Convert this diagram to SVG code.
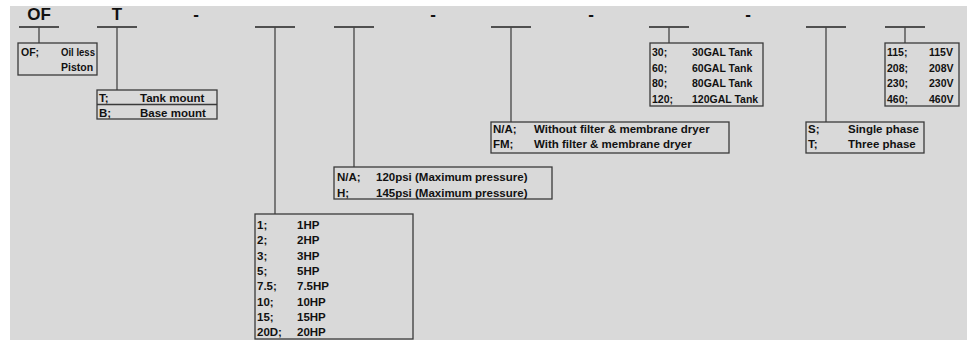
<svg xmlns="http://www.w3.org/2000/svg" width="967" height="340" viewBox="0 0 967 340">
<style>
.bg{fill:#d9d9d9}
.box{fill:none;stroke:#3a3a3a;stroke-width:1.3}
.ln{stroke:#222;stroke-width:1.3;fill:none}
.vl{stroke:#444;stroke-width:1.3;fill:none}
.t{font-family:"Liberation Sans",Arial,sans-serif;font-weight:bold;font-size:11.5px;fill:#111}
.s{font-size:10.5px}
.h{font-family:"Liberation Sans",Arial,sans-serif;font-weight:bold;font-size:17px;fill:#111;text-anchor:middle}
</style>
<rect x="0" y="0" width="967" height="340" fill="#ffffff"/>
<rect class="bg" x="10" y="6" width="957" height="334"/>
<g id="headers">
<text class="h" x="39" y="20">OF</text>
<text class="h" x="117" y="20">T</text>
<text class="h" x="196" y="20">-</text>
<text class="h" x="433" y="20">-</text>
<text class="h" x="591" y="20">-</text>
<text class="h" x="748" y="20">-</text>
</g>
<g id="connectors">
<line class="ln" x1="19" y1="27" x2="59" y2="27"/><line class="vl" x1="39" y1="27" x2="39" y2="43"/>
<line class="ln" x1="97" y1="27" x2="137" y2="27"/><line class="vl" x1="117" y1="27" x2="117" y2="90"/>
<line class="ln" x1="255" y1="27" x2="295" y2="27"/><line class="vl" x1="275" y1="27" x2="275" y2="214"/>
<line class="ln" x1="334" y1="27" x2="374" y2="27"/><line class="vl" x1="354" y1="27" x2="354" y2="167"/>
<line class="ln" x1="491" y1="27" x2="531" y2="27"/><line class="vl" x1="511" y1="27" x2="511" y2="122"/>
<line class="ln" x1="649" y1="27" x2="689" y2="27"/><line class="vl" x1="669" y1="27" x2="669" y2="43"/>
<line class="ln" x1="806" y1="27" x2="846" y2="27"/><line class="vl" x1="826" y1="27" x2="826" y2="122"/>
<line class="ln" x1="885" y1="27" x2="925" y2="27"/><line class="vl" x1="905" y1="27" x2="905" y2="43"/>
</g>
<g id="node-of">
<rect class="box" x="18" y="43" width="79" height="32"/>
<text class="t s" x="21" y="56">OF;</text>
<text class="t s" x="61" y="56" textLength="34" lengthAdjust="spacingAndGlyphs">Oil less</text>
<text class="t s" x="61" y="71">Piston</text>
</g>
<g id="node-mount">
<rect class="box" x="97" y="90" width="120" height="29"/>
<line class="box" x1="97" y1="104.5" x2="217" y2="104.5"/>
<text class="t" x="99" y="102">T;</text>
<text class="t" x="140" y="102">Tank mount</text>
<text class="t" x="99" y="117">B;</text>
<text class="t" x="140" y="117">Base mount</text>
</g>
<g id="node-hp">
<rect class="box" x="255" y="214" width="158" height="125"/>
<text class="t" x="257" y="229">1;</text><text class="t" x="297" y="229">1HP</text>
<text class="t" x="257" y="244.3">2;</text><text class="t" x="297" y="244.3">2HP</text>
<text class="t" x="257" y="259.6">3;</text><text class="t" x="297" y="259.6">3HP</text>
<text class="t" x="257" y="274.9">5;</text><text class="t" x="297" y="274.9">5HP</text>
<text class="t" x="257" y="290.2">7.5;</text><text class="t" x="297" y="290.2">7.5HP</text>
<text class="t" x="257" y="305.5">10;</text><text class="t" x="297" y="305.5">10HP</text>
<text class="t" x="257" y="320.8">15;</text><text class="t" x="297" y="320.8">15HP</text>
<text class="t" x="257" y="336">20D;</text><text class="t" x="297" y="336">20HP</text>
</g>
<g id="node-pressure">
<rect class="box" x="334" y="167" width="218" height="32"/>
<text class="t" x="337" y="181">N/A;</text><text class="t" x="376" y="181">120psi (Maximum pressure)</text>
<text class="t" x="337" y="197">H;</text><text class="t" x="376" y="197">145psi (Maximum pressure)</text>
</g>
<g id="node-filter">
<rect class="box" x="491" y="122" width="238" height="31"/>
<text class="t" x="493" y="133">N/A;</text><text class="t" x="534" y="133">Without filter &amp; membrane dryer</text>
<text class="t" x="493" y="148">FM;</text><text class="t" x="534" y="148">With filter &amp; membrane dryer</text>
</g>
<g id="node-tank">
<rect class="box" x="650" y="43" width="113" height="63"/>
<text class="t s" x="652" y="56">30;</text><text class="t s" x="692" y="56">30GAL Tank</text>
<text class="t s" x="652" y="72">60;</text><text class="t s" x="692" y="72">60GAL Tank</text>
<text class="t s" x="652" y="87">80;</text><text class="t s" x="692" y="87">80GAL Tank</text>
<text class="t s" x="652" y="103">120;</text><text class="t s" x="692" y="103">120GAL Tank</text>
</g>
<g id="node-phase">
<rect class="box" x="806" y="122" width="118" height="31"/>
<text class="t" x="808" y="133">S;</text><text class="t" x="848" y="133">Single phase</text>
<text class="t" x="808" y="148">T;</text><text class="t" x="848" y="148">Three phase</text>
</g>
<g id="node-voltage">
<rect class="box" x="885" y="43" width="74" height="63"/>
<text class="t s" x="887" y="56">115;</text><text class="t s" x="929" y="56">115V</text>
<text class="t s" x="887" y="72">208;</text><text class="t s" x="929" y="72">208V</text>
<text class="t s" x="887" y="87">230;</text><text class="t s" x="929" y="87">230V</text>
<text class="t s" x="887" y="103">460;</text><text class="t s" x="929" y="103">460V</text>
</g>
</svg>
